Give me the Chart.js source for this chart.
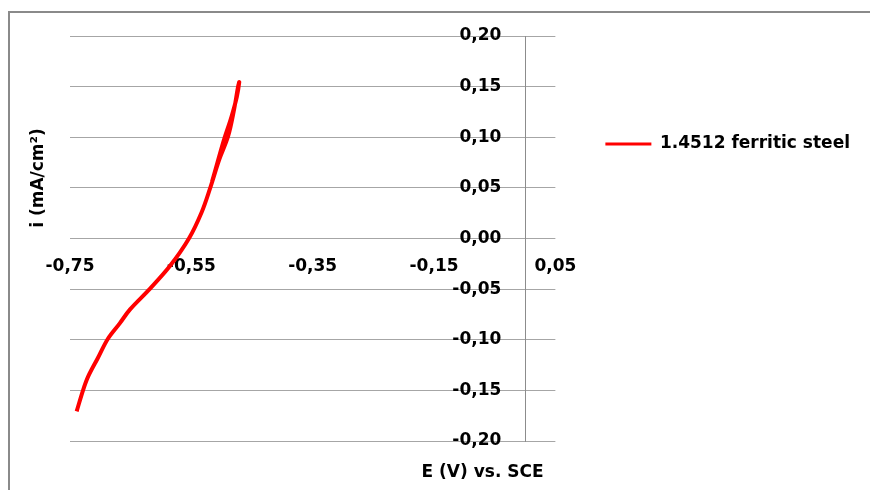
<!DOCTYPE html>
<html>
<head>
<meta charset="utf-8">
<script src="https://cdn.jsdelivr.net/npm/chart.js@4.4.1/dist/chart.umd.min.js"></script>
<style>
  html, body { margin: 0; padding: 0; background: #ffffff; }
  #wrap { position: relative; width: 870px; height: 490px; overflow: hidden; }
  #frame { position: absolute; left: 8px; top: 11px; width: 900px; height: 520px;
           border-left: 2px solid #8a8a8a; border-top: 2px solid #8a8a8a; box-sizing: border-box; }
  canvas { position: absolute; left: 0; top: 0; }
</style>
</head>
<body>
<div id="wrap">
  <div id="frame"></div>
  <canvas id="c" width="870" height="490"></canvas>
</div>
<script>
// Potential E (V vs. SCE) and current density i (mA/cm²)
const seriesName = '1.4512 ferritic steel';
const potentialE = [-0.739, -0.728, -0.7198, -0.7045, -0.6875, -0.668, -0.651, -0.618, -0.585, -0.554,
                    -0.533, -0.519, -0.504, -0.4894, -0.480, -0.473, -0.471,
                    -0.475, -0.484, -0.496, -0.507, -0.516];
const currentI   = [-0.1707, -0.149, -0.136, -0.1185, -0.099, -0.0838, -0.070, -0.0495, -0.027, 0.000,
                    0.026, 0.0498, 0.078, 0.101, 0.126, 0.150, 0.1545,
                    0.140, 0.120, 0.098, 0.075, 0.056];
const xTickValues = [-0.75, -0.55, -0.35, -0.15, 0.05];
const yTickValues = [-0.20, -0.15, -0.10, -0.05, 0.00, 0.05, 0.10, 0.15, 0.20];
const xAxisTitle = 'E (V) vs. SCE';
const yAxisTitle = 'i (mA/cm²)';

const FONT = 'DejaVu Sans';
const fmt = v => (Math.abs(v) < 1e-9 ? 0 : v).toFixed(2).replace('.', ',');

const axisTitles = {
  id: 'axisTitles',
  afterDraw(chart) {
    const ctx = chart.ctx;
    const xs = chart.scales.x;
    ctx.save();
    ctx.fillStyle = '#000';
    ctx.font = 'bold 17px "' + FONT + '"';
    ctx.textAlign = 'center';
    ctx.textBaseline = 'middle';
    ctx.fillText(xAxisTitle, xs.getPixelForValue(-0.07), chart.chartArea.bottom + 32);
    ctx.translate(39, 178);
    ctx.rotate(-Math.PI / 2);
    ctx.fillText(yAxisTitle, 0, 0);
    ctx.restore();
  }
};

new Chart(document.getElementById('c'), {
  type: 'scatter',
  data: {
    datasets: [{
      label: seriesName,
      data: potentialE.map((e, k) => ({ x: e, y: currentI[k] })),
      showLine: true,
      borderColor: '#ff0000',
      backgroundColor: '#ff0000',
      borderWidth: 4,
      pointRadius: 0,
      tension: 0.35,
      fill: false
    }]
  },
  options: {
    responsive: false,
    animation: false,
    devicePixelRatio: 1,
    layout: { padding: { left: 70, top: 36, bottom: 49, right: 10 } },
    scales: {
      x: {
        type: 'linear',
        min: -0.75, max: 0.05,
        position: { y: 0 },
        afterBuildTicks: s => { s.ticks = xTickValues.map(v => ({ value: v })); },
        grid: { display: false, drawTicks: false },
        border: { display: false },
        ticks: {
          color: '#000', padding: 18,
          font: { family: FONT, size: 17, weight: 'bold' },
          maxRotation: 0, autoSkip: false,
          callback: v => fmt(v)
        }
      },
      y: {
        type: 'linear',
        min: -0.20, max: 0.20,
        position: { x: 0 },
        afterBuildTicks: s => { s.ticks = yTickValues.map(v => ({ value: v })); },
        grid: { color: '#a6a6a6', lineWidth: 1, drawTicks: false },
        border: { display: true, color: '#8c8c8c', width: 1 },
        ticks: {
          color: '#000', padding: 0,
          font: { family: FONT, size: 17, weight: 'bold' },
          autoSkip: false,
          callback: v => fmt(v) + '    '
        }
      }
    },
    plugins: {
      tooltip: { enabled: false },
      legend: {
        position: 'right',
        align: 'start',
        maxWidth: 400,
        title: { display: true, text: '', font: { size: 12 }, padding: { top: 0, bottom: 35 } },
        labels: {
          color: '#000',
          font: { family: FONT, size: 17, weight: 'bold' },
          boxWidth: 46,
          boxHeight: 0,
          padding: 50,
          generateLabels: chart => Chart.defaults.plugins.legend.labels.generateLabels(chart)
            .map(l => Object.assign(l, { lineWidth: 3 }))
        }
      }
    }
  },
  plugins: [axisTitles]
});
</script>
</body>
</html>
